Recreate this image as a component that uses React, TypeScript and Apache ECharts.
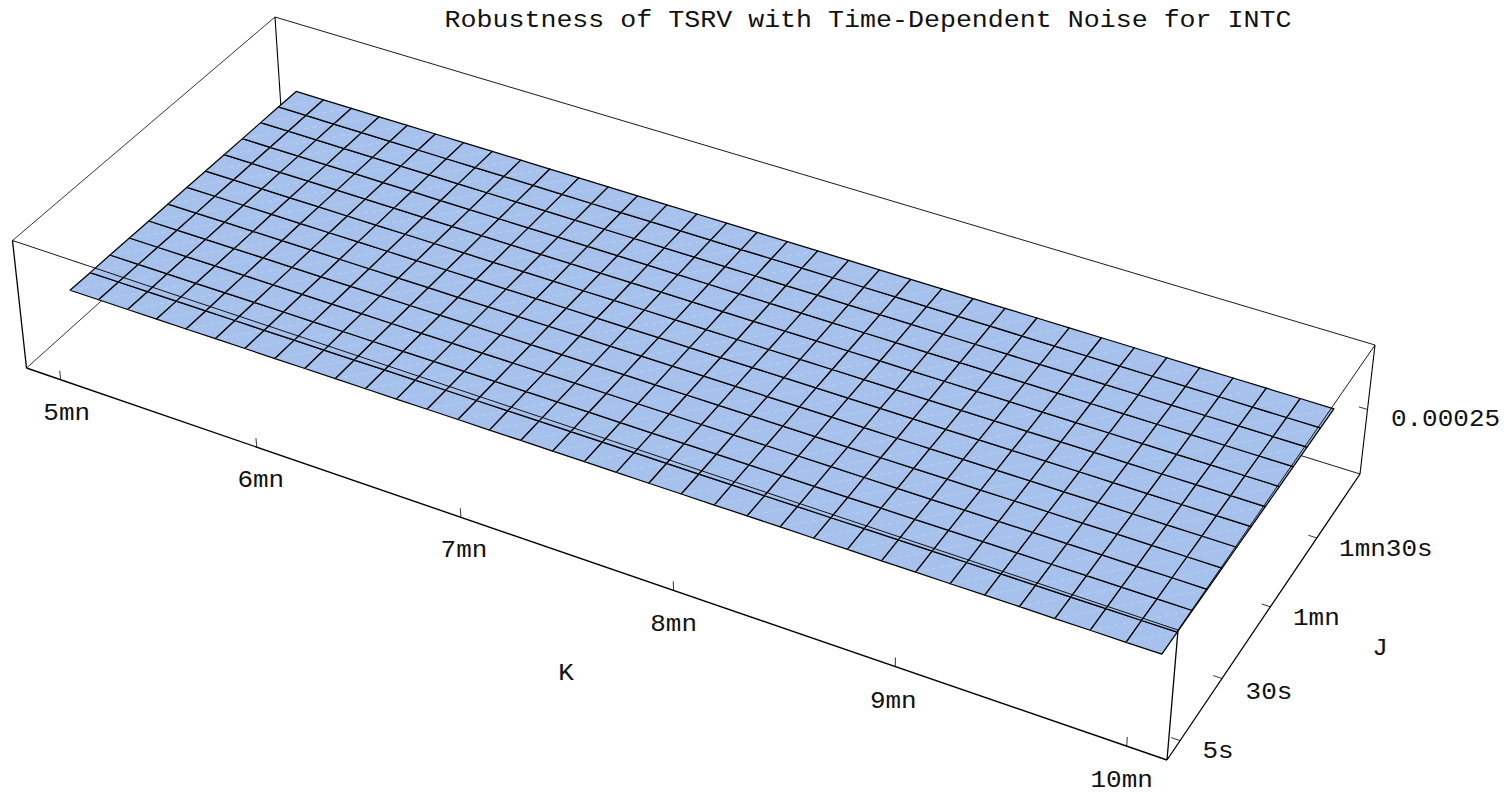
import React, { useEffect, useRef } from "react";
import * as echarts from "echarts";

const TITLE = "Robustness of TSRV with Time-Dependent Noise for INTC";
// K in seconds (5mn = 300), J in seconds
const kValues = [300,308.9,317.9,326.8,335.8,344.7,353.6,362.6,371.5,380.5,389.4,398.4,407.3,416.2,425.2,434.1,443.1,452,460.9,469.9,478.8,487.8,496.7,505.6,514.6,523.5,532.5,541.4,550.4,559.3,568.2,577.2,586.1,595.1,604];
const jValues = [5,13.9,22.8,31.6,40.5,49.4,58.3,67.1,76,84.9,93.8,102.6,111.5];
const kTicks = [300,360,420,480,540,600];
const kTickLabels = ["5mn","6mn","7mn","8mn","9mn","10mn"];
const jTicks = [5,30,60,90];
const jTickLabels = ["5s","30s","1mn","1mn30s"];
const zTicks = [0.00025];
const zTickLabels = ["0.00025"];

// surface height, one row per J, one value per K, in units of 1e-7
const zRow0 = [2580,2581,2581,2582,2582,2583,2584,2584,2585,2585,2586,2586,2587,2588,2588,2589,2589,2590,2591,2591,2592,2592,2593,2594,2594,2595,2595,2596,2596,2597,2598,2598,2599,2599,2600];
const zRow1 = [2579,2580,2580,2581,2581,2582,2582,2583,2583,2584,2585,2585,2586,2586,2587,2587,2588,2589,2589,2590,2590,2591,2591,2592,2592,2593,2594,2594,2595,2595,2596,2596,2597,2597,2598];
const zRow2 = [2580,2580,2581,2581,2582,2582,2583,2583,2584,2584,2585,2585,2586,2586,2587,2587,2588,2588,2588,2589,2589,2590,2590,2591,2591,2592,2592,2593,2593,2594,2594,2595,2595,2596,2596];
const zRow3 = [2579,2579,2580,2580,2581,2581,2582,2582,2583,2583,2583,2584,2584,2585,2585,2586,2586,2586,2587,2587,2588,2588,2589,2589,2590,2590,2590,2591,2591,2592,2592,2593,2593,2594,2594];
const zRow4 = [2578,2578,2579,2579,2580,2580,2580,2581,2581,2582,2582,2583,2583,2583,2584,2584,2585,2585,2585,2586,2586,2587,2587,2587,2588,2588,2589,2589,2590,2590,2590,2591,2591,2592,2592];
const zRow5 = [2578,2578,2579,2579,2579,2580,2580,2580,2581,2581,2581,2582,2582,2583,2583,2583,2584,2584,2584,2585,2585,2585,2586,2586,2586,2587,2587,2587,2588,2588,2589,2589,2589,2590,2590];
const zRow6 = [2578,2578,2579,2579,2579,2579,2580,2580,2580,2581,2581,2581,2582,2582,2582,2582,2583,2583,2583,2584,2584,2584,2584,2585,2585,2585,2586,2586,2586,2587,2587,2587,2587,2588,2588];
const zRow7 = [2577,2577,2577,2578,2578,2578,2578,2579,2579,2579,2579,2580,2580,2580,2580,2581,2581,2581,2581,2581,2582,2582,2582,2582,2583,2583,2583,2583,2584,2584,2584,2584,2585,2585,2585];
const zRow8 = [2577,2577,2577,2578,2578,2578,2578,2578,2578,2579,2579,2579,2579,2579,2579,2580,2580,2580,2580,2580,2581,2581,2581,2581,2581,2581,2582,2582,2582,2582,2582,2582,2583,2583,2583];
const zRow9 = [2576,2576,2576,2576,2577,2577,2577,2577,2577,2577,2577,2578,2578,2578,2578,2578,2578,2578,2579,2579,2579,2579,2579,2579,2580,2580,2580,2580,2580,2580,2580,2581,2581,2581,2581];
const zRow10 = [2576,2576,2576,2576,2576,2576,2577,2577,2577,2577,2577,2577,2577,2577,2577,2577,2577,2578,2578,2578,2578,2578,2578,2578,2578,2578,2578,2578,2578,2579,2579,2579,2579,2579,2579];
const zRow11 = [2576,2576,2576,2576,2576,2576,2576,2576,2576,2576,2576,2576,2576,2576,2576,2576,2576,2577,2577,2577,2577,2577,2577,2577,2577,2577,2577,2577,2577,2577,2577,2577,2577,2577,2577];
const zRow12 = [2575,2575,2575,2575,2575,2575,2575,2575,2575,2575,2575,2575,2575,2575,2575,2575,2575,2575,2575,2575,2575,2575,2575,2575,2575,2575,2575,2575,2575,2575,2575,2575,2575,2575,2575];
const zRows = [zRow0,zRow1,zRow2,zRow3,zRow4,zRow5,zRow6,zRow7,zRow8,zRow9,zRow10,zRow11,zRow12];
const zAt = (c:number,r:number)=>zRows[r][c]*1e-7;

const kRange=[289.3,610.2], jRange=[-2.63,119], zRange=[0.0002,0.0003];
type P=[number,number];
const bottom:P[]=[[26.5,368],[1167,760],[1360,474],[283,138]];
const top:P[]=[[12.5,240.5],[1178,630],[1375,345],[275,17]];
function homography(q:P[]){
  const [[x0,y0],[x1,y1],[x2,y2],[x3,y3]]=q;
  const dx1=x1-x2,dx2=x3-x2,sx=x0-x1+x2-x3,dy1=y1-y2,dy2=y3-y2,sy=y0-y1+y2-y3;
  const den=dx1*dy2-dx2*dy1;
  const g=(sx*dy2-dx2*sy)/den,h=(dx1*sy-sx*dy1)/den;
  const a=x1-x0+g*x1,b=x3-x0+h*x3,d=y1-y0+g*y1,e=y3-y0+h*y3;
  return (u:number,v:number):P=>{const w=g*u+h*v+1;return [(a*u+b*v+x0)/w,(d*u+e*v+y0)/w];};
}
const H0=homography(bottom),H1=homography(top);
function projectUnit(u:number,v:number,w:number):P{const p=H0(u,v),q=H1(u,v);return [p[0]+(q[0]-p[0])*w,p[1]+(q[1]-p[1])*w];}
const toU=(k:number)=>(k-kRange[0])/(kRange[1]-kRange[0]);
const toV=(j:number)=>(j-jRange[0])/(jRange[1]-jRange[0]);
const toW=(z:number)=>(z-zRange[0])/(zRange[1]-zRange[0]);
const project=(k:number,j:number,z:number)=>projectUnit(toU(k),toV(j),toW(z));

const backEdges=[[0,0,0,0,0,1,1.3],[0,0,1,0,1,1,0.8],[0,1,1,0,1,0,1.1],[0,1,0,0,0,0,0.8],[0,1,0,1,1,0,0.9],[0,1,1,1,1,1,0.9],[1,1,0,1,1,1,1.1]];
const frontEdges=[[0,0,0,1,0,0,1.4],[1,0,0,1,1,0,1.3],[1,0,0,1,0,1,1.3],[0,0,1,1,0,1,0.9],[1,0,1,1,1,1,0.9]];

const FONT='"Liberation Mono", monospace';
const INK="#111111";
const labelOffsets:P[][]=[
 [[6,34],[4,34],[3,34],[0,34],[-2,35],[-5,35]],
 [[38,11],[47,14],[46,12],[69,12]],
 [[78,10]],
];

export default function App(){
  const ref=useRef<HTMLDivElement>(null);
  useEffect(()=>{
    document.body.style.margin="0";
    const chart=echarts.init(ref.current!,undefined,{renderer:"svg"});
    const cells:number[][]=[];
    for(let r=0;r<jValues.length-1;r++)for(let c=0;c<kValues.length-1;c++)cells.push([c,r]);
    const edgeRender=(list:number[][])=>(_:any,api:any)=>{
      const e=list[api.value(0)];
      const a=api.coord(projectUnit(e[0],e[1],e[2])),b=api.coord(projectUnit(e[3],e[4],e[5]));
      return {type:"line",shape:{x1:a[0],y1:a[1],x2:b[0],y2:b[1]},style:{stroke:"#000",lineWidth:e[6]},silent:true};
    };
    const ticks:number[][]=[];
    kTicks.forEach((_,i)=>ticks.push([0,i]));
    jTicks.forEach((_,i)=>ticks.push([1,i]));
    zTicks.forEach((_,i)=>ticks.push([2,i]));
    chart.setOption({
      animation:false,
      backgroundColor:"#fff",
      grid:{left:0,right:0,top:0,bottom:0},
      xAxis:{type:"value",min:0,max:1507,show:false},
      yAxis:{type:"value",min:0,max:794,inverse:true,show:false},
      graphic:[
        {type:"text",x:868,y:21,scaleX:1.11,style:{text:TITLE,fontSize:24,fontFamily:FONT,fill:INK,align:"center",verticalAlign:"middle"}},
        {type:"text",x:566,y:674,scaleX:1.13,style:{text:"K",fontSize:23,fontFamily:FONT,fill:INK,align:"center",verticalAlign:"middle"}},
        {type:"text",x:1380,y:649,scaleX:1.13,style:{text:"J",fontSize:23,fontFamily:FONT,fill:INK,align:"center",verticalAlign:"middle"}},
      ],
      series:[
        {type:"custom",coordinateSystem:"cartesian2d",silent:true,data:backEdges.map((_,i)=>[i,0]),encode:{x:0,y:1},renderItem:edgeRender(backEdges)},
        {type:"custom",coordinateSystem:"cartesian2d",silent:true,data:cells,encode:{x:0,y:1},renderItem:(_:any,api:any)=>{
          const c=api.value(0),r=api.value(1);
          const pt=(cc:number,rr:number)=>api.coord(project(kValues[cc],jValues[rr],zAt(cc,rr)));
          const lf=pt(c,r),fr=pt(c+1,r),rt=pt(c+1,r+1),bk=pt(c,r+1);
          return {type:"group",children:[
            {type:"polygon",shape:{points:[lf,fr,rt,bk]},style:{fill:"#A6C1EC",stroke:"#000",lineWidth:1.25,lineJoin:"round"}},
            {type:"line",shape:{x1:lf[0],y1:lf[1],x2:rt[0],y2:rt[1]},style:{stroke:"rgba(255,255,255,0.3)",lineWidth:0.7,lineDash:[5,3]}},
          ]};
        }},
        {type:"custom",coordinateSystem:"cartesian2d",silent:true,data:frontEdges.map((_,i)=>[i,0]),encode:{x:0,y:1},renderItem:edgeRender(frontEdges)},
        {type:"custom",coordinateSystem:"cartesian2d",silent:true,data:ticks,encode:{x:0,y:1},renderItem:(_:any,api:any)=>{
          const ax=api.value(0),i=api.value(1);
          let p:P,q:P,label:string;
          if(ax===0){p=projectUnit(toU(kTicks[i]),0,0);q=projectUnit(toU(kTicks[i]),0,0.07);label=kTickLabels[i];}
          else if(ax===1){p=projectUnit(1,toV(jTicks[i]),0);q=projectUnit(0.993,toV(jTicks[i]),0);label=jTickLabels[i];}
          else {p=projectUnit(1,1,toW(zTicks[i]));q=projectUnit(0.993,1,toW(zTicks[i]));label=zTickLabels[i];}
          const o=labelOffsets[ax][i];
          const a=api.coord(p),b=api.coord(q),t=api.coord([p[0]+o[0],p[1]+o[1]]);
          return {type:"group",children:[
            {type:"line",shape:{x1:a[0],y1:a[1],x2:b[0],y2:b[1]},style:{stroke:"#000",lineWidth:0.8}},
            {type:"text",x:t[0],y:t[1],scaleX:1.13,style:{text:label,fontSize:23,fontFamily:FONT,fill:INK,align:"center",verticalAlign:"middle"}},
          ]};
        }},
      ],
    });
    return ()=>chart.dispose();
  },[]);
  return <div ref={ref} style={{position:"fixed",left:0,top:0,width:1507,height:794}}/>;
}
